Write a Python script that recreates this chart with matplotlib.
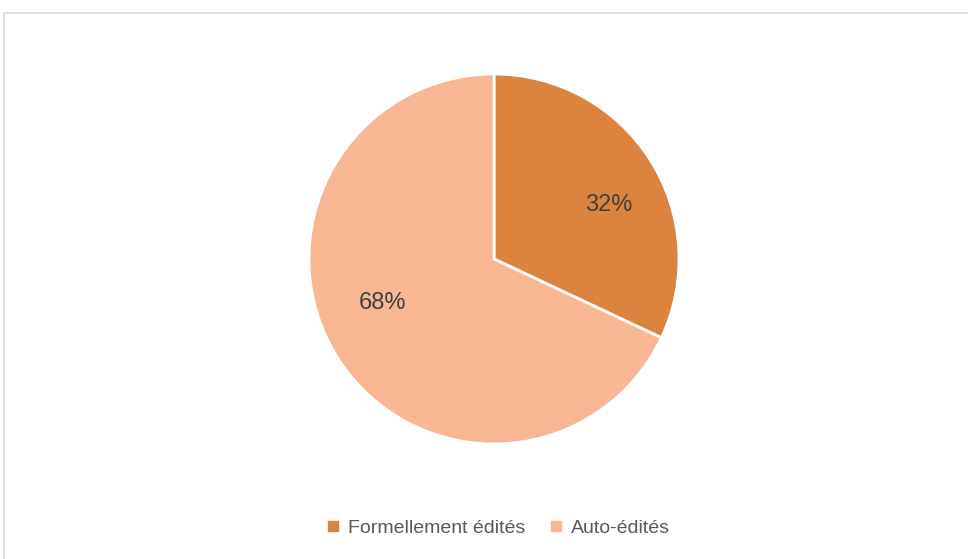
import matplotlib.pyplot as plt
from matplotlib.patches import Rectangle

labels = ['Formellement édités', 'Auto-édités']
shares = [32, 68]
colors = ['#DC843F', '#F8B692']

W, H = 968, 559
fig = plt.figure(figsize=(W / 100, H / 100), dpi=100)
plt.rcParams['font.family'] = ['Liberation Sans', 'DejaVu Sans']

# light frame around the chart area
fig.patches.append(Rectangle((4 / W, -0.02), 1.0, 1 - 13 / H + 0.02,
                             transform=fig.transFigure, fill=False,
                             edgecolor='#d9d9d9', linewidth=1.2))

cx, cy, r = 494, 259, 185
ax = fig.add_axes([(cx - r) / W, (H - cy - r) / H, 2 * r / W, 2 * r / H])
wedges, texts, autotexts = ax.pie(
    shares, colors=colors, startangle=90, counterclock=False,
    autopct='%d%%', pctdistance=0.67,
    wedgeprops=dict(edgecolor='white', linewidth=2),
    textprops=dict(color='#404040', fontsize=17))
ax.set_xlim(-1, 1)
ax.set_ylim(-1, 1)
autotexts[0].set_position((0.62, 0.29))
autotexts[1].set_position((-0.60, -0.24))

handles = [plt.Line2D([], [], marker='s', linestyle='', markersize=7,
                      color=c) for c in colors]
fig.legend(handles, labels, loc='center', bbox_to_anchor=(498 / W, 1 - 528 / H),
           ncol=2, frameon=False, fontsize=14, handlelength=0.7,
           handletextpad=0.4, columnspacing=1.25, labelcolor='#595959')

fig.savefig('out.png', dpi=100)
